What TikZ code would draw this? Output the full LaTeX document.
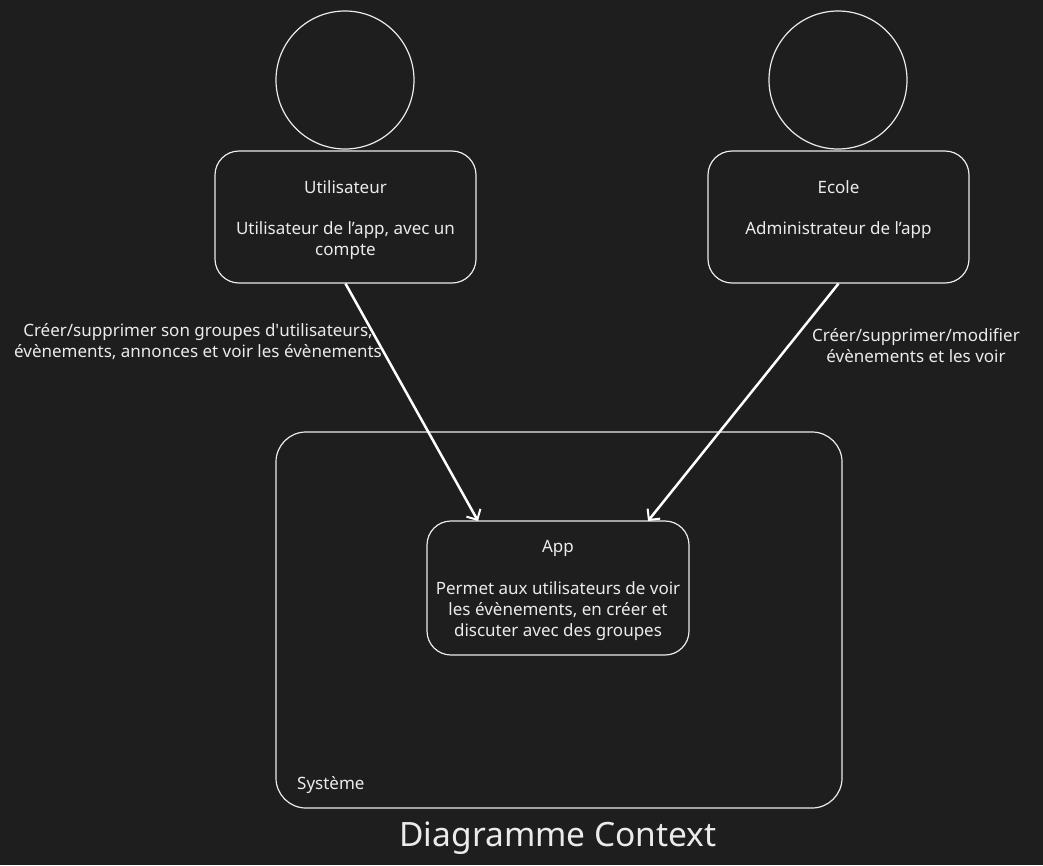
\documentclass[tikz,border=0pt]{standalone}
\usepackage{fontspec}
\setmainfont{Noto Sans}
\usetikzlibrary{arrows.meta}
\definecolor{bg}{HTML}{1E1E1E}
\definecolor{fg}{HTML}{EBEBEB}
\begin{document}
\begin{tikzpicture}[x=1pt,y=-1pt,
  every node/.style={text=fg,font=\fontsize{17}{21}\selectfont,inner sep=0pt},
  actor/.style={circle,draw=fg,line width=1.2pt,minimum size=138pt},
  card/.style={draw=fg,line width=1.2pt,rounded corners=24pt,fill=bg},
  conn/.style={draw=white,line width=2.5pt,-{Straight Barb[length=8pt,width=16pt,line width=2pt]}},
  lbl/.style={align=center}]
\fill[bg] (0,0) rectangle (1043,865);
\useasboundingbox (0,0) rectangle (1043,865);
% system boundary
\node[card,rounded corners=30pt,minimum width=566pt,minimum height=376pt] (sys) at (559,620) {};
\node[anchor=base west,font=\fontsize{17}{18}\selectfont] (systxt) at (297,789) {Système};
% actors
\node[actor] (c1) at (345,80) {};
\node[actor] (c2) at (838,80) {};
\node[card,minimum width=261pt,minimum height=132pt] (user) at (345.5,217) {};
\node[card,minimum width=261pt,minimum height=132pt] (ecole) at (838.5,217) {};
\node[lbl] (usert) at (345.5,187) {Utilisateur};
\node[lbl] (userd) at (345.5,241) {Utilisateur de l’app, avec un\\compte};
\node[lbl] (ecolet) at (838.5,187) {Ecole};
\node[lbl] (ecoled) at (838.5,230) {Administrateur de l’app};
% app
\node[card,minimum width=262pt,minimum height=134pt] (app) at (558,588) {};
\node[lbl] (appt) at (558,548) {App};
\node[lbl] (appd) at (558,611) {Permet aux utilisateurs de voir\\les évènements, en créer et\\discuter avec des groupes};
% connectors
\coordinate (a1e) at (478,521);
\coordinate (a2e) at (648,521);
\draw[conn] (user.south) -- (a1e);
\draw[conn] (ecole.south) -- (a2e);
\node[lbl] (l1) at (198,342) {Créer/supprimer son groupes d\textquotesingle utilisateurs,\\évènements, annonces et voir les évènements};
\node[lbl] (l2) at (916,346) {Créer/supprimer/modifier\\évènements et les voir};
% title
\node[font=\fontsize{33.5}{40}\selectfont] (title) at (558,838) {Diagramme Context};
\end{tikzpicture}
\end{document}
